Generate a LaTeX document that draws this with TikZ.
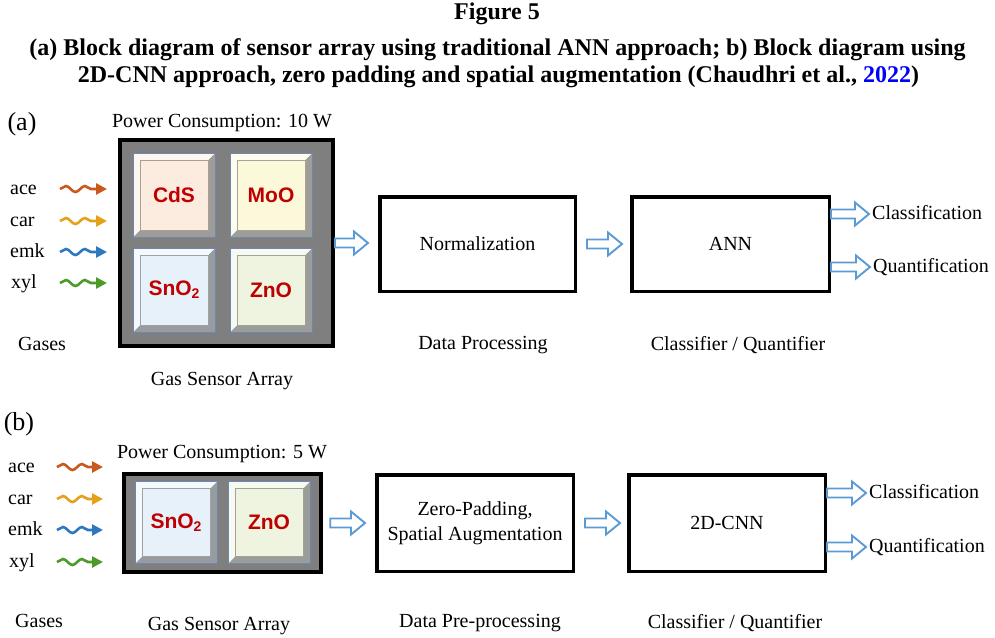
\documentclass[tikz,border=0pt]{standalone}
\usepackage{fontspec}
\setmainfont{Liberation Serif}
\newfontfamily\tilefont{Liberation Sans}
\usetikzlibrary{arrows.meta,decorations.pathmorphing,calc}

\definecolor{flowblue}{HTML}{5B9BD5}
\definecolor{oxred}{HTML}{C00000}
\definecolor{arraygray}{HTML}{7F7F7F}
\definecolor{tileedge}{HTML}{6E86B4}
\definecolor{cdsface}{HTML}{FCECDF}
\definecolor{mooface}{HTML}{FCF8DA}
\definecolor{snoface}{HTML}{E6F1FA}
\definecolor{znoface}{HTML}{EEF4E0}
\definecolor{acecol}{HTML}{C9591C}
\definecolor{carcol}{HTML}{E3A21A}
\definecolor{emkcol}{HTML}{2F78BE}
\definecolor{xylcol}{HTML}{4C9A2A}
\definecolor{refblue}{HTML}{0000FF}

\newcommand{\txt}{\fontsize{20}{25}\selectfont}
\newcommand{\panelfont}{\fontsize{26}{30}\selectfont}
\newcommand{\tilesub}[1]{\raisebox{-0.25ex}{\fontsize{14}{14}\selectfont #1}}

\tikzset{
    lbl/.style={inner sep=1pt, font=\txt, text height=14pt, text depth=4pt},
    ttl/.style={inner sep=1pt, font=\bfseries\fontsize{24}{28}\selectfont},
    block/.style={draw, line width=3.5pt, minimum width=195.5, minimum height=94.5,
        font=\txt, align=center},
    sensorbox/.style={draw, line width=4pt, fill=arraygray},
    tile/.style={draw=tileedge, line width=0.8pt, fill=#1, minimum width=82,
        minimum height=84, inner sep=0, text=oxred,
        font=\tilefont\bfseries\fontsize{21}{21}\selectfont,
        path picture={
            \coordinate (sw) at (path picture bounding box.south west);
            \coordinate (ne) at (path picture bounding box.north east);
            \fill[#1!25!gray] (sw) -| (ne) -- ++(-7pt,-7pt) |- ($(sw)+(7pt,7pt)$) -- cycle;
            \fill[#1!45!white] (sw) |- (ne) -- ++(-7pt,-7pt) -| ($(sw)+(7pt,7pt)$) -- cycle;
            \filldraw[fill=#1, draw=#1!30!gray, line width=0.8pt]
                ($(sw)+(7pt,7pt)$) rectangle ($(ne)-(7pt,7pt)$);
        }},
    wave/.style={draw=#1, line width=2.6pt, decorate,
        decoration={snake, amplitude=3pt, segment length=19pt, post length=11pt},
        -{Triangle[length=11pt, width=11pt]}},
    hollow/.style={draw=flowblue, line width=1.9pt, fill=white,
        to path={let \p1=(\tikztostart), \p2=(\tikztotarget) in
            (\x1,\y1+4.5pt) -- (\x2-14pt,\y1+4.5pt) -- (\x2-14pt,\y1+11.5pt) -- (\x2,\y1)
            -- (\x2-14pt,\y1-11.5pt) -- (\x2-14pt,\y1-4.5pt) -- (\x1,\y1-4.5pt) -- cycle}}
}

\begin{document}
\begin{tikzpicture}[x=1pt, y=-1pt]
    \useasboundingbox (0,0) rectangle (995,637);

    % caption
    \node[ttl] (fig) at (497,14) {Figure 5};
    \node[ttl] (capA) at (497.5,50) {(a) Block diagram of sensor array using traditional ANN approach; b) Block diagram using};
    \node[ttl] (capB) at (498.5,77) {2D-CNN approach, zero padding and spatial augmentation (Chaudhri et al., \textcolor{refblue}{2022})};

    % (a) sensor array + ANN
    \node[lbl, font=\panelfont] (tagA) at (22,125) {(a)};
    \node[lbl] (powA) at (222,122) {Power Consumption: 10 W};
    \node[sensorbox, minimum width=213, minimum height=206] (arrA) at (226.5,243) {};
    \node[tile=cdsface] (cds) at (174,195) {CdS};
    \node[tile=mooface] (moo) at (271,195) {MoO};
    \node[tile=snoface] (snoA) at (174,290) {SnO\tilesub{2}};
    \node[tile=znoface] (znoA) at (271,290) {ZnO};
    \node[lbl] (gsA) at (222,380) {Gas Sensor Array};

    \node[lbl, anchor=west] (aceA) at (9,189) {ace};
    \node[lbl, anchor=west] (carA) at (9,221) {car};
    \node[lbl, anchor=west] (emkA) at (9,252) {emk};
    \node[lbl, anchor=west] (xylA) at (10,283) {xyl};
    \node[lbl, anchor=west] (gasA) at (17,345) {Gases};
    \coordinate (inA) at (60,0);
    \coordinate (outA) at (107,0);
    \draw[wave=acecol] (inA |- aceA) -- (outA |- aceA);
    \draw[wave=carcol] (inA |- carA) -- (outA |- carA);
    \draw[wave=emkcol] (inA |- emkA) -- (outA |- emkA);
    \draw[wave=xylcol] (inA |- xylA) -- (outA |- xylA);

    \node[block] (normA) at (477.5,244) {Normalization};
    \node[block, minimum width=197.5] (annA) at (730.5,244) {ANN};
    \node[lbl] (dpA) at (483,344) {Data Processing};
    \node[lbl] (cqA) at (738,345) {Classifier / Quantifier};
    \node[lbl, anchor=west] (clsA) at (871,214) {Classification};
    \node[lbl, anchor=west] (quaA) at (872,267) {Quantification};

    \draw[hollow] (arrA.east) to ([xshift=-10pt]normA.west);
    \draw[hollow] ([xshift=10pt]normA.east) to ([xshift=-8pt]annA.west);
    \draw[hollow] (annA.east |- clsA) to ([xshift=-2pt]clsA.west);
    \draw[hollow] (annA.east |- quaA) to ([xshift=-2pt]quaA.west);

    % (b) reduced array + 2D-CNN
    \node[lbl, font=\panelfont] (tagB) at (19,425) {(b)};
    \node[lbl] (powB) at (222,453) {Power Consumption: 5 W};
    \node[sensorbox, minimum width=197.5, minimum height=98] (arrB) at (222.5,523) {};
    \node[tile=snoface, minimum height=82] (snoB) at (176,522.5) {SnO\tilesub{2}};
    \node[tile=znoface, minimum height=82] (znoB) at (269,522.5) {ZnO};
    \node[lbl] (gsB) at (219,625) {Gas Sensor Array};

    \node[lbl, anchor=west] (aceB) at (7,467) {ace};
    \node[lbl, anchor=west] (carB) at (7,499) {car};
    \node[lbl, anchor=west] (emkB) at (7,530) {emk};
    \node[lbl, anchor=west] (xylB) at (8,562) {xyl};
    \node[lbl, anchor=west] (gasB) at (14,622) {Gases};
    \coordinate (inB) at (57,0);
    \coordinate (outB) at (103,0);
    \draw[wave=acecol] (inB |- aceB) -- (outB |- aceB);
    \draw[wave=carcol] (inB |- carB) -- (outB |- carB);
    \draw[wave=emkcol] (inB |- emkB) -- (outB |- emkB);
    \draw[wave=xylcol] (inB |- xylB) -- (outB |- xylB);

    \node[block, minimum width=196.5, minimum height=96.5] (preB) at (475,523) {Zero-Padding,\\Spatial Augmentation};
    \node[block, minimum width=196.5, minimum height=96.5] (cnnB) at (727,523) {2D-CNN};
    \node[lbl] (dpB) at (480,622) {Data Pre-processing};
    \node[lbl] (cqB) at (735,623) {Classifier / Quantifier};
    \node[lbl, anchor=west] (clsB) at (868,493) {Classification};
    \node[lbl, anchor=west] (quaB) at (868,547) {Quantification};

    \draw[hollow] ([xshift=7pt]arrB.east) to ([xshift=-10pt]preB.west);
    \draw[hollow] ([xshift=10pt]preB.east) to ([xshift=-7pt]cnnB.west);
    \draw[hollow] (cnnB.east |- clsB) to ([xshift=-2pt]clsB.west);
    \draw[hollow] (cnnB.east |- quaB) to ([xshift=-2pt]quaB.west);
\end{tikzpicture}
\end{document}
